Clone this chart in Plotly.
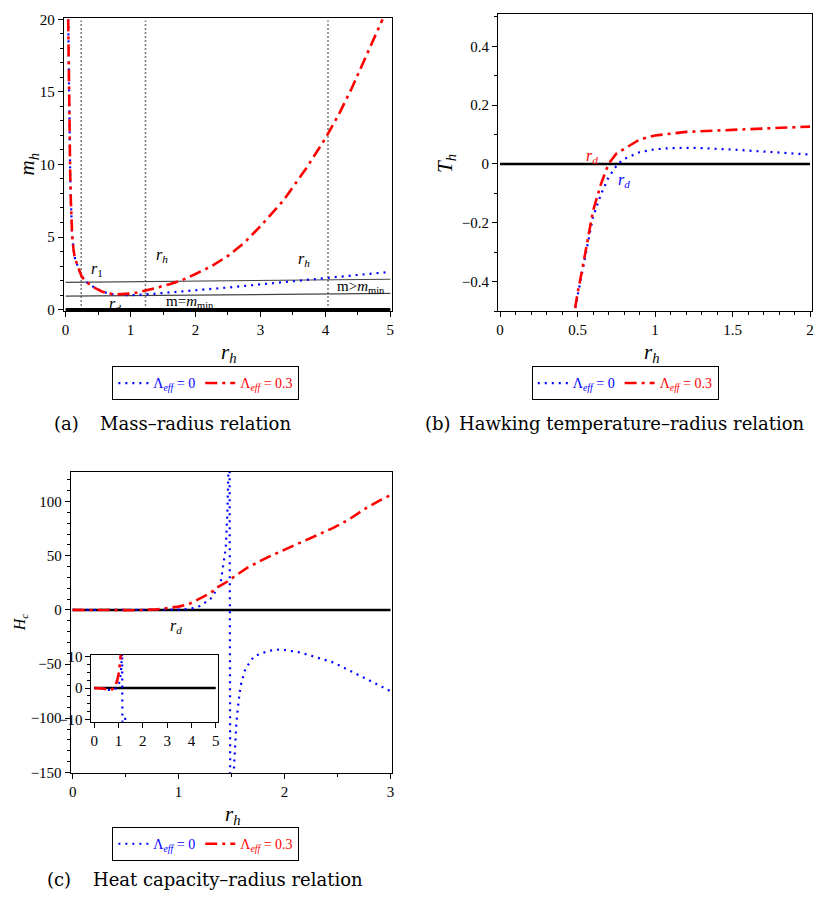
import plotly.graph_objects as go

W, H = 823, 908
OFF = 8                      # default body margin of the written page
FW, FH = W - OFF, H - OFF

# ---------------- Panel (a): mass - radius ----------------
ra_blue = [0.04, 0.05, 0.06, 0.07, 0.08, 0.09, 0.1, 0.12, 0.14, 0.17, 0.2, 0.24, 0.27, 0.32, 0.4, 0.48,
           0.55, 0.62, 0.7, 0.8, 0.9, 1.0, 1.2, 1.5, 2.0, 2.5, 3.0, 3.5, 4.0, 4.5, 5.0]
ma_blue = [20, 15.5, 12, 9.5, 7.6, 6.2, 5.2, 4.2, 3.6, 3.2, 2.8, 2.35, 2.15, 1.9, 1.63, 1.42,
           1.29, 1.17, 1.06, 1.01, 0.99, 0.99, 1.03, 1.13, 1.33, 1.52, 1.73, 1.94, 2.15, 2.38, 2.6]
ra_red = [0.04, 0.05, 0.06, 0.07, 0.08, 0.09, 0.1, 0.12, 0.14, 0.17, 0.2, 0.24, 0.27, 0.32, 0.4, 0.48,
          0.55, 0.62, 0.7, 0.8, 0.9, 1.0, 1.1, 1.22, 1.4, 1.6, 1.78, 2.0, 2.25, 2.5, 2.75, 3.0,
          3.35, 3.7, 4.0, 4.2, 4.4, 4.6, 4.88]
ma_red = [20, 15.5, 12, 9.5, 7.6, 6.2, 5.2, 4.2, 3.6, 3.2, 2.8, 2.35, 2.15, 1.9, 1.62, 1.4,
          1.26, 1.15, 1.08, 1.05, 1.06, 1.1, 1.17, 1.29, 1.5, 1.75, 2.0, 2.45, 3.0, 3.7, 4.6, 5.75,
          7.5, 9.7, 11.8, 13.4, 15.2, 17.2, 20.0]
a_vlines = [0.24, 1.23, 4.04]          # r_1, r_h, r_h
a_guide_x = [0, 5]
a_guide_min = [0.93, 1.11]             # m = m_min line
a_guide_gt = [1.88, 2.09]              # m > m_min line

# ---------------- Panel (b): temperature - radius ----------------
rb_blue = [0.485, 0.5, 0.53, 0.56, 0.6, 0.65, 0.7, 0.76, 0.8, 0.9, 1.0, 1.1, 1.25, 1.5, 1.75, 2.0]
tb_blue = [-0.49, -0.45, -0.36, -0.28, -0.18, -0.105, -0.045, 0.0, 0.017, 0.04, 0.05, 0.054, 0.055,
           0.049, 0.041, 0.032]
rb_red = [0.485, 0.5, 0.53, 0.56, 0.6, 0.65, 0.7, 0.75, 0.83, 0.9, 1.0, 1.2, 1.5, 1.75, 2.0]
tb_red = [-0.49, -0.44, -0.36, -0.27, -0.16, -0.07, 0.0, 0.035, 0.062, 0.083, 0.097, 0.109, 0.116,
          0.121, 0.127]

# ---------------- Panel (c): heat capacity - radius ----------------
rc_blue = [0, 0.2, 0.4, 0.6, 0.8, 0.9, 1.0, 1.08, 1.13, 1.2, 1.24, 1.3, 1.335, 1.37, 1.4, 1.43, 1.445,
           1.46, 1.47, 1.478, 1.49, 1.515, 1.53, 1.545, 1.56, 1.585, 1.63, 1.71, 1.84, 1.96, 2.15,
           2.46, 2.77, 3.0]
hc_blue = [0, 0, 0, -0.2, -0.3, -0.2, 0.2, 0.8, 1.5, 3.5, 6, 10, 15, 20, 27, 48, 57,
           88, 127, 300, -300, -160, -125, -105, -90, -70, -54.5, -43, -38, -36.4, -39.4,
           -48.5, -63.6, -75]
rc_red = [0, 0.2, 0.4, 0.6, 0.8, 0.9, 1.0, 1.1, 1.21, 1.3, 1.37, 1.45, 1.52, 1.65, 1.84, 2.0, 2.15,
          2.3, 2.46, 2.6, 2.77, 2.9, 3.0]
hc_red = [0, 0, 0, -0.3, 0.5, 1.5, 3, 5.5, 10.6, 15.5, 21, 25.5, 30.3, 39, 48.5, 55.5, 62,
          69, 75.7, 83, 94, 101, 106]

# inset of panel (c)
ri_blue = [0, 0.2, 0.4, 0.6, 0.8, 0.95, 1.05, 1.1, 1.13, 1.15, 1.16, 1.2, 1.35, 1.5]
hi_blue = [0, 0, -0.2, -0.6, -0.6, 0.2, 2, 5, 10, 11, -11, -9.8, -9.8, -9.8]
ri_red = [0, 0.2, 0.4, 0.6, 0.75, 0.85, 0.95, 1.02, 1.06, 1.08, 1.1]
hi_red = [0, 0, -0.2, -0.6, -0.4, 0.3, 2.5, 5, 7.5, 9.5, 11]

legend_blue = '<span style="color:#0000FF">Λ<sub><i>eff</i></sub> = 0</span>'
legend_red = '<span style="color:#FF0000">Λ<sub><i>eff</i></sub> = 0.3</span>'

BLUE, RED = "#0000FF", "#FF0000"
FONT = "Liberation Serif"
CAP_FONT = "DejaVu Serif"
blue_line = dict(color=BLUE, width=2.2, dash="2px,5px")
red_line = dict(color=RED, width=2.6, dash="12px,5px,3px,5px")


def clamp(v):
    return min(1.0, max(0.0, v))


def dx(a, b):
    return [clamp((a - OFF) / FW), clamp((b - OFF) / FW)]


def dy(top, bottom):
    return [clamp(1 - (bottom - OFF) / FH), clamp(1 - (top - OFF) / FH)]


def px(x, y):
    return (x - OFF) / FW, 1 - (y - OFF) / FH


def axis(domain, rng, dtick, minor, anchor, size=15):
    return dict(domain=domain, range=rng, dtick=dtick, tick0=0, showline=True, mirror=True,
                linecolor="black", linewidth=1, ticks="outside", ticklen=5, tickcolor="black",
                minor=dict(ticks="outside", ticklen=3, dtick=minor, tick0=0, tickcolor="black"),
                showgrid=False, zeroline=False, anchor=anchor,
                tickfont=dict(family=FONT, size=size, color="black"))


fig = go.Figure()

# ---- panel (a)
fig.add_trace(go.Scatter(x=a_guide_x, y=[0, 0], mode="lines", line=dict(color="black", width=3),
                         showlegend=False, xaxis="x", yaxis="y"))
for v in a_vlines:
    fig.add_trace(go.Scatter(x=[v, v], y=[0, 19.9], mode="lines",
                             line=dict(color="black", width=1.6, dash="1px,3px"),
                             showlegend=False, xaxis="x", yaxis="y"))
for g in (a_guide_min, a_guide_gt):
    fig.add_trace(go.Scatter(x=a_guide_x, y=g, mode="lines", line=dict(color="#444444", width=1.2),
                             showlegend=False, xaxis="x", yaxis="y"))
fig.add_trace(go.Scatter(x=ra_blue, y=ma_blue, mode="lines", line=blue_line, name=legend_blue,
                         legend="legend", xaxis="x", yaxis="y"))
fig.add_trace(go.Scatter(x=ra_red, y=ma_red, mode="lines", line=red_line, name=legend_red,
                         legend="legend", xaxis="x", yaxis="y"))

# ---- panel (b)
fig.add_trace(go.Scatter(x=[0, 2], y=[0, 0], mode="lines", line=dict(color="black", width=2.5),
                         showlegend=False, xaxis="x2", yaxis="y2"))
fig.add_trace(go.Scatter(x=rb_blue, y=tb_blue, mode="lines", line=blue_line, name=legend_blue,
                         legend="legend2", xaxis="x2", yaxis="y2"))
fig.add_trace(go.Scatter(x=rb_red, y=tb_red, mode="lines", line=red_line, name=legend_red,
                         legend="legend2", xaxis="x2", yaxis="y2"))

# ---- panel (c)
fig.add_trace(go.Scatter(x=[0, 3], y=[0, 0], mode="lines", line=dict(color="black", width=2.5),
                         showlegend=False, xaxis="x3", yaxis="y3"))
fig.add_trace(go.Scatter(x=rc_blue, y=hc_blue, mode="lines", line=blue_line, name=legend_blue,
                         legend="legend3", xaxis="x3", yaxis="y3"))
fig.add_trace(go.Scatter(x=rc_red, y=hc_red, mode="lines", line=red_line, name=legend_red,
                         legend="legend3", xaxis="x3", yaxis="y3"))

# ---- inset
fig.add_trace(go.Scatter(x=[0, 5], y=[0, 0], mode="lines", line=dict(color="black", width=2.5),
                         showlegend=False, xaxis="x4", yaxis="y4"))
fig.add_trace(go.Scatter(x=ri_blue, y=hi_blue, mode="lines", line=blue_line, showlegend=False,
                         xaxis="x4", yaxis="y4"))
fig.add_trace(go.Scatter(x=ri_red, y=hi_red, mode="lines", line=red_line, showlegend=False,
                         xaxis="x4", yaxis="y4"))

layout = dict(
    width=FW, height=FH, margin=dict(l=0, r=0, t=0, b=0),
    paper_bgcolor="white", plot_bgcolor="white",
    font=dict(family=FONT, size=15, color="black"),
    xaxis=axis(dx(62, 392), [-0.03, 5.02], 1, 0.5, "y"),
    yaxis=axis(dy(12, 310), [-0.12, 20.1], 5, 1, "x"),
    xaxis2=axis(dx(499, 815), [-0.013, 2.013], 0.5, 0.1, "y2"),
    yaxis2=axis(dy(8, 310), [-0.501, 0.510], 0.2, 0.1, "x2"),
    xaxis3=axis(dx(69, 392), [-0.019, 3.011], 1, 0.5, "y3"),
    yaxis3=axis(dy(473, 779), [-150.6, 127.5], 50, 10, "x3"),
    xaxis4=axis(dx(90, 217), [-0.11, 5.08], 1, 1, "y4"),
    yaxis4=axis(dy(659, 727), [-10.7, 10.5], 10, 2.5, "x4"),
)


def legend_at(x, y):
    lx, ly = px(x, y)
    return dict(x=lx, y=ly, xanchor="left", yanchor="top", orientation="h",
                bordercolor="black", borderwidth=1, bgcolor="white",
                font=dict(family=FONT, size=14), itemwidth=30, tracegroupgap=0,
                itemclick=False)


layout["legend"] = legend_at(111, 366)
layout["legend2"] = legend_at(533, 366)
layout["legend3"] = legend_at(111, 834)
fig.update_layout(**layout)


def note(x, y, text, size=15, color="black", angle=0, xanchor="center", family=FONT):
    nx, ny = px(x, y)
    fig.add_annotation(x=nx, y=ny, xref="paper", yref="paper", text=text, showarrow=False,
                       font=dict(family=family, size=size, color=color), textangle=angle,
                       xanchor=xanchor, yanchor="middle")


rh = "<i>r</i><sub><i>h</i></sub>"
# axis titles
note(228, 352, rh, size=21)
note(654, 352, rh, size=21)
note(232, 822, rh, size=21)
note(26, 160, "<i>m</i><sub><i>h</i></sub>", size=21, angle=-90)
note(446, 160, "<i>T</i><sub><i>h</i></sub>", size=21, angle=-90)
note(18, 626, "<i>H</i><sub><i>c</i></sub>", size=16, angle=-90)

# in-plot labels (a)
note(96, 268, "<i>r</i><sub>1</sub>", size=16)
note(161, 253, rh, size=16)
note(304, 257, rh, size=16)
note(114, 303, "<i>r</i><sub><i>d</i></sub>", size=16)
note(163, 301, "m=<i>m</i><sub>min</sub>", size=15, xanchor="left")
note(335, 285, "m&gt;<i>m</i><sub>min</sub>", size=15, xanchor="left")
# (b)
note(594, 153, "<i>r</i><sub><i>d</i></sub>", size=16, color=RED)
note(626, 177, "<i>r</i><sub><i>d</i></sub>", size=16, color=BLUE)
# (c)
note(175, 630, "<i>r</i><sub><i>d</i></sub>", size=16)

# captions
CS = 18
note(50, 424, "(a)", size=CS, xanchor="left", family=CAP_FONT)
note(97, 424, "Mass–radius relation", size=CS, xanchor="left", family=CAP_FONT)
note(424, 424, "(b)", size=CS, xanchor="left", family=CAP_FONT)
note(458, 424, "Hawking temperature–radius relation", size=CS, xanchor="left", family=CAP_FONT)
note(43, 887, "(c)", size=CS, xanchor="left", family=CAP_FONT)
note(90, 887, "Heat capacity–radius relation", size=CS, xanchor="left", family=CAP_FONT)

fig.write_html("out.html")
